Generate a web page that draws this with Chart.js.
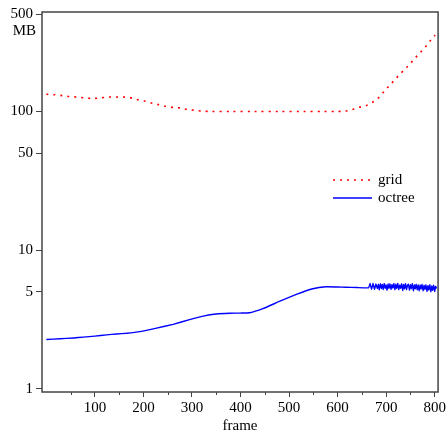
<!DOCTYPE html>
<html>
<head>
<meta charset="utf-8">
<script src="https://cdn.jsdelivr.net/npm/chart.js@4.4.1/dist/chart.umd.min.js"></script>
<style>
  html, body { margin: 0; padding: 0; background: #fff; }
  #wrap { width: 448px; height: 437px; }
</style>
</head>
<body>
<div id="wrap"><canvas id="memChart"></canvas></div>
<script>
// grid series (MB per frame)
const gridFrames = [0, 16, 33, 48, 64, 80, 95, 111, 126, 141, 156, 171, 186, 202, 217, 231, 246, 261, 276, 291, 306, 322, 338,
  380, 430, 480, 530, 570, 599, 615, 630, 644, 658, 671, 683, 694, 704, 715, 726, 737, 748, 759, 770, 781, 791, 801];
const gridValues = [133, 132, 130, 128, 127, 125, 124, 125, 127, 127, 127, 126, 122, 119, 115, 112, 109, 107, 106, 103, 102, 100.5, 100,
  100, 100, 100, 100, 100, 100, 100.5, 103, 107, 110, 116, 124, 137, 150, 165, 182, 199, 218, 241, 265, 292, 323, 355];

// octree series (MB per frame)
const octreeFrames = [0, 28, 56, 76, 100, 124, 145, 165, 193, 227, 261, 295, 323, 350, 378, 400, 419, 446, 480, 515, 549, 576, 600, 617, 640, 664,
  667, 670, 673, 676, 679, 682, 684, 686, 688, 690, 692, 694, 696, 698, 700, 702, 704, 706, 708, 710, 712, 714, 716, 718, 720,
  722, 724, 726, 728, 730, 732, 734, 736, 738, 740, 742, 744, 746, 748, 750, 752, 754, 756, 758, 760, 762, 764, 766, 768, 770,
  772, 774, 776, 778, 780, 782, 784, 786, 788, 790, 792, 794, 796, 798, 800, 802, 804];
const octreeValues = [2.27, 2.30, 2.33, 2.36, 2.40, 2.45, 2.49, 2.52, 2.59, 2.74, 2.92, 3.16, 3.35, 3.47, 3.51, 3.52, 3.54, 3.79, 4.27, 4.80, 5.27, 5.45, 5.43, 5.41, 5.38, 5.36,
  5.75, 5.20, 5.78, 5.22, 5.70, 5.28, 5.68, 5.18, 5.72, 5.30, 5.66, 5.20, 5.74, 5.32, 5.62, 5.15, 5.70, 5.28, 5.72, 5.22, 5.64, 5.34, 5.74, 5.18, 5.68,
  5.30, 5.76, 5.20, 5.60, 5.32, 5.72, 5.12, 5.66, 5.26, 5.74, 5.20, 5.58, 5.68, 5.15, 5.64, 5.28, 5.72, 5.10, 5.62, 5.26, 5.68, 5.18, 5.62, 5.08, 5.60,
  5.24, 5.66, 5.10, 5.58, 5.20, 5.62, 5.04, 5.55, 5.16, 5.62, 5.02, 5.52, 5.14, 5.58, 5.04, 5.48, 5.30];

const xTickValues = [50, 100, 150, 200, 250, 300, 350, 400, 450, 500, 550, 600, 650, 700, 750, 800];
const yTickValues = [1, 5, 10, 50, 100, 500];

const legendItems = [
  { label: 'grid', color: '#ff0000', dash: [2, 5] },
  { label: 'octree', color: '#0000ff', dash: [] }
];

const toPoints = (xs, ys) => xs.map((x, i) => ({ x: x, y: ys[i] }));

const AXIS_COLOR = '#444';

// frame box, short minor ticks, legend and the "MB" unit label
const decorPlugin = {
  id: 'decor',
  afterDraw(chart) {
    const ctx = chart.ctx;
    const area = chart.chartArea;
    const xs = chart.scales.x;
    const ys = chart.scales.y;

    ctx.save();
    ctx.strokeStyle = AXIS_COLOR;
    ctx.lineWidth = 1.5;
    ctx.strokeRect(area.left, area.top, area.right - area.left, area.bottom - area.top);

    // minor x ticks
    ctx.lineWidth = 1;
    xTickValues.filter(v => v % 100 !== 0).forEach(v => {
      const px = Math.round(xs.getPixelForValue(v)) + 0.5;
      ctx.beginPath();
      ctx.moveTo(px, area.bottom);
      ctx.lineTo(px, area.bottom + 3);
      ctx.stroke();
    });

    // legend
    ctx.font = '15px "Liberation Serif"';
    ctx.textBaseline = 'middle';
    ctx.fillStyle = '#000';
    legendItems.forEach((item, i) => {
      const y = 180 + i * 18;
      ctx.strokeStyle = item.color;
      ctx.lineWidth = 1.5;
      ctx.setLineDash(item.dash);
      ctx.beginPath();
      ctx.moveTo(333, y);
      ctx.lineTo(372, y);
      ctx.stroke();
      ctx.setLineDash([]);
      ctx.fillText(item.label, 378, y);
    });

    // unit under the 500 tick
    ctx.textAlign = 'right';
    ctx.fillText('MB', 36, ys.getPixelForValue(500) + 17);
    ctx.restore();
  }
};

const ctx = document.getElementById('memChart').getContext('2d');
Chart.defaults.font.family = '"Liberation Serif", "Times New Roman", serif';
Chart.defaults.font.size = 15;
Chart.defaults.color = '#000';

new Chart(ctx, {
  type: 'line',
  data: {
    datasets: [{
      label: 'grid',
      data: toPoints(gridFrames, gridValues),
      borderColor: '#ff0000',
      borderWidth: 1.6,
      borderDash: [2, 5],
      pointRadius: 0,
      tension: 0.3,
      fill: false
    }, {
      label: 'octree',
      data: toPoints(octreeFrames, octreeValues),
      borderColor: '#0000ff',
      borderWidth: 1.4,
      pointRadius: 0,
      tension: 0.1,
      fill: false
    }]
  },
  options: {
    responsive: true,
    maintainAspectRatio: false,
    animation: false,
    layout: {
      padding: { top: 10, right: 9, left: 0, bottom: 0 }
    },
    plugins: {
      legend: { display: false },
      tooltip: { enabled: false }
    },
    scales: {
      x: {
        type: 'linear',
        min: -9,
        max: 807,
        afterBuildTicks(scale) {
          scale.ticks = xTickValues.map(v => ({ value: v }));
        },
        afterFit(scale) {
          scale.height = 45;
        },
        ticks: {
          autoSkip: false,
          maxRotation: 0,
          padding: 2,
          callback: v => (v % 100 === 0 ? String(v) : '')
        },
        grid: {
          drawOnChartArea: false,
          tickLength: 5,
          tickColor: c => (c.tick && c.tick.value % 100 === 0 ? AXIS_COLOR : 'rgba(0,0,0,0)')
        },
        border: { display: false },
        title: {
          display: true,
          text: 'frame',
          padding: { top: 0, bottom: 2 }
        }
      },
      y: {
        type: 'logarithmic',
        min: 0.95,
        max: 521,
        afterBuildTicks(scale) {
          scale.ticks = yTickValues.map(v => ({ value: v }));
        },
        afterFit(scale) {
          scale.width = 42;
        },
        ticks: {
          autoSkip: false,
          padding: 3,
          callback: v => String(v)
        },
        grid: {
          drawOnChartArea: false,
          tickLength: 6,
          tickColor: AXIS_COLOR
        },
        border: { display: false }
      }
    }
  },
  plugins: [decorPlugin]
});
</script>
</body>
</html>
